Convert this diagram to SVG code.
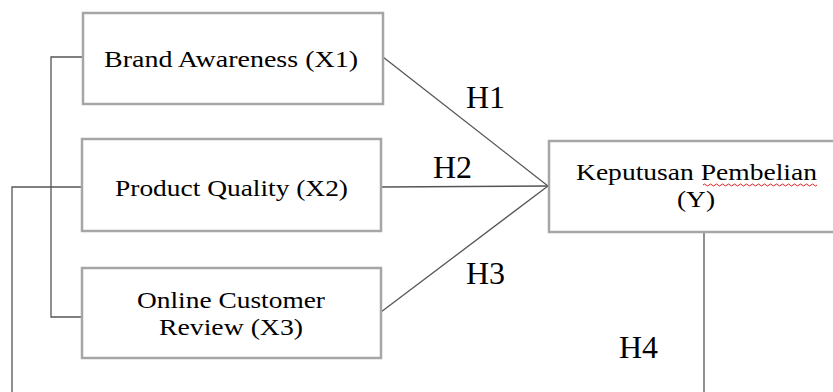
<svg xmlns="http://www.w3.org/2000/svg" width="833" height="392" viewBox="0 0 833 392">
<style>
.box{fill:#fff;stroke:#a6a6a6;stroke-width:2.5}
.t{font-family:"Liberation Serif","Times New Roman",serif;font-size:23px;fill:#000}
.h{font-family:"Liberation Serif","Times New Roman",serif;font-size:32px;fill:#000}
.c{fill:none;stroke:#555;stroke-width:1.3}
</style>
<rect width="833" height="392" fill="#fff"/>
<g id="connectors">
<polyline class="c" points="83,57 51,57 51,317 83,317"/>
<polyline class="c" points="12,392 12,187 83,187"/>
<line class="c" x1="383" y1="57" x2="548" y2="186"/>
<line class="c" x1="381" y1="187" x2="548" y2="186"/>
<line class="c" x1="381" y1="312" x2="548" y2="186"/>
<line class="c" x1="704" y1="232" x2="704" y2="392"/>
<text class="h" x="466" y="108">H1</text>
<text class="h" x="433" y="178">H2</text>
<text class="h" x="466" y="284">H3</text>
<text class="h" x="619" y="358">H4</text>
</g>
<g id="x1">
<rect class="box" x="83" y="13" width="300" height="91"/>
<text class="t" x="104" y="67" textLength="254" lengthAdjust="spacingAndGlyphs">Brand Awareness (X1)</text>
</g>
<g id="x2">
<rect class="box" x="82" y="139" width="299" height="92"/>
<text class="t" x="115" y="196" textLength="233" lengthAdjust="spacingAndGlyphs">Product Quality (X2)</text>
</g>
<g id="x3">
<rect class="box" x="82" y="268" width="299" height="90"/>
<text class="t" x="137" y="308" textLength="188" lengthAdjust="spacingAndGlyphs">Online Customer</text>
<text class="t" x="159" y="335" textLength="144" lengthAdjust="spacingAndGlyphs">Review (X3)</text>
</g>
<g id="y">
<rect class="box" x="549" y="141" width="300" height="91"/>
<text class="t" x="576" y="180" textLength="241" lengthAdjust="spacingAndGlyphs">Keputusan Pembelian</text>
<text class="t" x="677" y="207" textLength="38" lengthAdjust="spacingAndGlyphs">(Y)</text>
<path d="M703,185 q1.5,-2 3,0 t3,0 t3,0 t3,0 t3,0 t3,0 t3,0 t3,0 t3,0 t3,0 t3,0 t3,0 t3,0 t3,0 t3,0 t3,0 t3,0 t3,0 t3,0 t3,0 t3,0 t3,0 t3,0 t3,0 t3,0 t3,0 t3,0 t3,0 t3,0 t3,0 t3,0 t3,0 t3,0 t3,0 t3,0 t3,0 t3,0 t3,0" fill="none" stroke="#e02020" stroke-width="1"/>
</g>
</svg>
